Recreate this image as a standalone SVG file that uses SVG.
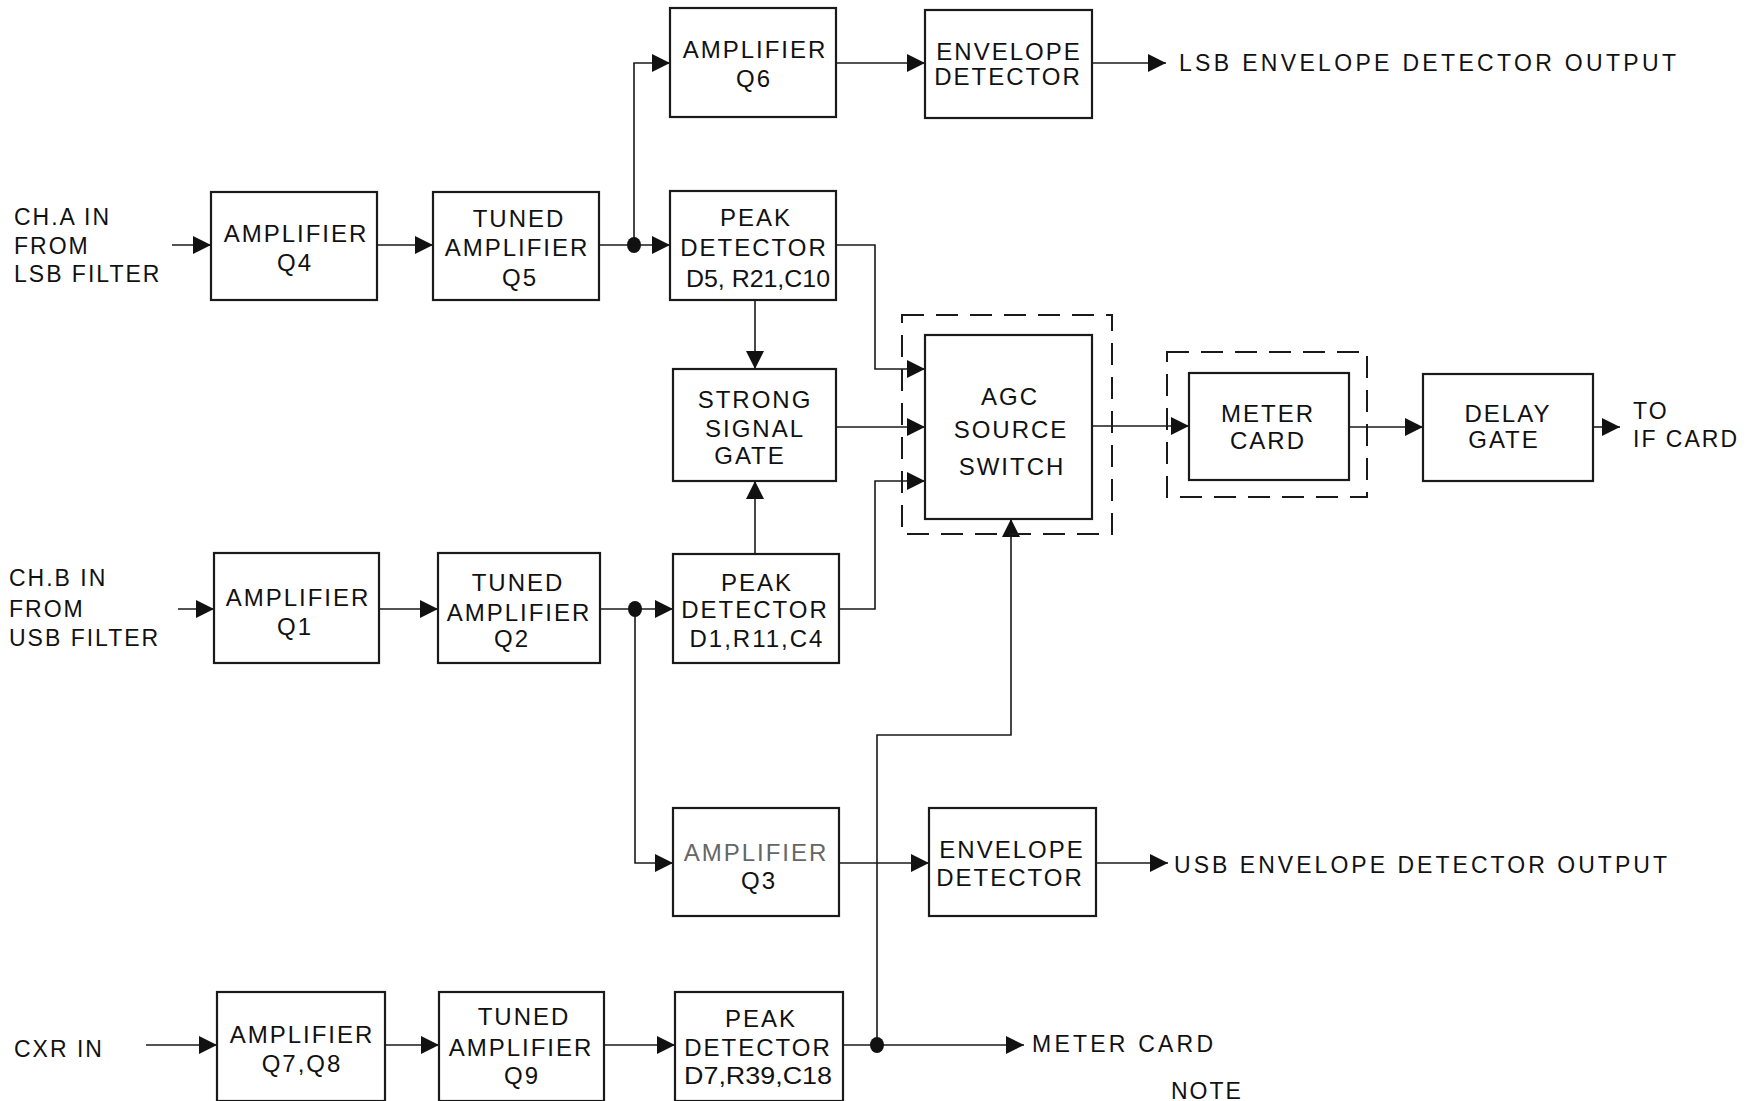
<svg xmlns="http://www.w3.org/2000/svg" width="1758" height="1101" viewBox="0 0 1758 1101">
<defs>
<marker id="ah" markerUnits="userSpaceOnUse" markerWidth="18" markerHeight="18" refX="18" refY="9" orient="auto">
<path d="M0,0 L18,9 L0,18 z" fill="#111"/>
</marker>
<style>
.box{fill:#fff;stroke:#1a1a1a;stroke-width:2.2}
.dash{fill:none;stroke:#1a1a1a;stroke-width:2;stroke-dasharray:22 12}
.ln{fill:none;stroke:#1a1a1a;stroke-width:1.6}
.t{font-family:"Liberation Sans",Arial,sans-serif;font-size:24px;letter-spacing:2px;fill:#111;text-anchor:middle}
.ts{font-family:"Liberation Sans",Arial,sans-serif;font-size:24px;fill:#111;text-anchor:start}
.l{font-family:"Liberation Sans",Arial,sans-serif;font-size:23px;letter-spacing:2px;fill:#111}
.dot{fill:#111}
</style>
</defs>
<rect width="1758" height="1101" fill="#fff"/>

<g id="connectors">
<path class="ln" d="M172,245 H211" marker-end="url(#ah)"/>
<path class="ln" d="M377,245 H433" marker-end="url(#ah)"/>
<path class="ln" d="M599,245 H670" marker-end="url(#ah)"/>
<path class="ln" d="M634,245 V63 H670" marker-end="url(#ah)"/>
<path class="ln" d="M836,63 H925" marker-end="url(#ah)"/>
<path class="ln" d="M1092,63 H1166" marker-end="url(#ah)"/>
<path class="ln" d="M836,245 H875 V369 H925" marker-end="url(#ah)"/>
<path class="ln" d="M755,300 V369" marker-end="url(#ah)"/>
<path class="ln" d="M836,427 H925" marker-end="url(#ah)"/>
<path class="ln" d="M755,554 V481" marker-end="url(#ah)"/>
<path class="ln" d="M839,609 H875 V481 H925" marker-end="url(#ah)"/>
<path class="ln" d="M178,609 H214" marker-end="url(#ah)"/>
<path class="ln" d="M379,609 H438" marker-end="url(#ah)"/>
<path class="ln" d="M600,609 H673" marker-end="url(#ah)"/>
<path class="ln" d="M635,609 V863 H673" marker-end="url(#ah)"/>
<path class="ln" d="M839,863 H929" marker-end="url(#ah)"/>
<path class="ln" d="M1096,863 H1168" marker-end="url(#ah)"/>
<path class="ln" d="M146,1045 H217" marker-end="url(#ah)"/>
<path class="ln" d="M385,1045 H439" marker-end="url(#ah)"/>
<path class="ln" d="M604,1045 H675" marker-end="url(#ah)"/>
<path class="ln" d="M843,1045 H1024" marker-end="url(#ah)"/>
<path class="ln" d="M877,1045 V735 H1011 V519" marker-end="url(#ah)"/>
<path class="ln" d="M1092,426 H1189" marker-end="url(#ah)"/>
<path class="ln" d="M1349,427 H1423" marker-end="url(#ah)"/>
<path class="ln" d="M1593,427 H1620" marker-end="url(#ah)"/>
<ellipse class="dot" cx="634" cy="245" rx="7" ry="8"/>
<ellipse class="dot" cx="635" cy="609" rx="7" ry="8"/>
<ellipse class="dot" cx="877" cy="1045" rx="7" ry="8"/>
</g>

<g id="amp-q6"><rect class="box" x="670" y="8" width="166" height="109"/>
<text class="t" x="755" y="58">AMPLIFIER</text><text class="t" x="754" y="87" letter-spacing="4">Q6</text></g>

<g id="env-top"><rect class="box" x="925" y="10" width="167" height="108"/>
<text class="t" x="1009" y="60">ENVELOPE</text><text class="t" x="1008" y="85">DETECTOR</text></g>

<g id="amp-q4"><rect class="box" x="211" y="192" width="166" height="108"/>
<text class="t" x="296" y="242">AMPLIFIER</text><text class="t" x="295" y="271">Q4</text></g>

<g id="tuned-q5"><rect class="box" x="433" y="192" width="166" height="108"/>
<text class="t" x="519" y="227" letter-spacing="3">TUNED</text><text class="t" x="517" y="256">AMPLIFIER</text><text class="t" x="520" y="286" letter-spacing="5">Q5</text></g>

<g id="peak-d5"><rect class="box" x="670" y="191" width="166" height="109"/>
<text class="t" x="756" y="226" letter-spacing="3">PEAK</text><text class="t" x="754" y="256">DETECTOR</text><text class="ts" x="686" y="287" textLength="144" lengthAdjust="spacingAndGlyphs">D5, R21,C10</text></g>

<g id="strong-gate"><rect class="box" x="673" y="369" width="163" height="112"/>
<text class="t" x="755" y="408" letter-spacing="4">STRONG</text><text class="t" x="755" y="437" letter-spacing="4">SIGNAL</text><text class="t" x="750" y="464" letter-spacing="3">GATE</text></g>

<g id="agc-switch">
<rect class="dash" x="902" y="315" width="210" height="219"/>
<rect class="box" x="925" y="335" width="167" height="184"/>
<text class="t" x="1010" y="405" letter-spacing="6">AGC</text><text class="t" x="1011" y="438" letter-spacing="3">SOURCE</text><text class="t" x="1012" y="475" letter-spacing="3">SWITCH</text></g>

<g id="meter-card">
<rect class="dash" x="1167" y="352" width="200" height="145"/>
<rect class="box" x="1189" y="373" width="160" height="107"/>
<text class="t" x="1268" y="422" letter-spacing="4">METER</text><text class="t" x="1268" y="449" letter-spacing="3">CARD</text></g>

<g id="delay-gate"><rect class="box" x="1423" y="374" width="170" height="107"/>
<text class="t" x="1508" y="422" letter-spacing="5">DELAY</text><text class="t" x="1504" y="448" letter-spacing="4">GATE</text></g>

<g id="amp-q1"><rect class="box" x="214" y="553" width="165" height="110"/>
<text class="t" x="298" y="606">AMPLIFIER</text><text class="t" x="295" y="635" letter-spacing="5">Q1</text></g>

<g id="tuned-q2"><rect class="box" x="438" y="553" width="162" height="110"/>
<text class="t" x="518" y="591" letter-spacing="3">TUNED</text><text class="t" x="519" y="621">AMPLIFIER</text><text class="t" x="512" y="647" letter-spacing="5">Q2</text></g>

<g id="peak-d1"><rect class="box" x="673" y="554" width="166" height="109"/>
<text class="t" x="757" y="591" letter-spacing="3">PEAK</text><text class="t" x="755" y="618">DETECTOR</text><text class="t" x="757" y="647">D1,R11,C4</text></g>

<g id="amp-q3"><rect class="box" x="673" y="808" width="166" height="108"/>
<text class="t" x="756" y="861" style="fill:#666">AMPLIFIER</text><text class="t" x="759" y="889">Q3</text></g>

<g id="env-usb"><rect class="box" x="929" y="808" width="167" height="108"/>
<text class="t" x="1012" y="858">ENVELOPE</text><text class="t" x="1010" y="886">DETECTOR</text></g>

<g id="amp-q7q8"><rect class="box" x="217" y="992" width="168" height="109"/>
<text class="t" x="302" y="1043">AMPLIFIER</text><text class="t" x="302" y="1072">Q7,Q8</text></g>

<g id="tuned-q9"><rect class="box" x="439" y="992" width="165" height="109"/>
<text class="t" x="524" y="1025" letter-spacing="3">TUNED</text><text class="t" x="521" y="1056">AMPLIFIER</text><text class="t" x="522" y="1084" letter-spacing="4">Q9</text></g>

<g id="peak-d7"><rect class="box" x="675" y="992" width="168" height="109"/>
<text class="t" x="761" y="1027" letter-spacing="3">PEAK</text><text class="t" x="758" y="1056">DETECTOR</text><text class="ts" x="684" y="1084" textLength="148" lengthAdjust="spacingAndGlyphs">D7,R39,C18</text></g>

<g id="labels">
<text class="l" x="14" y="225">CH.A  IN</text>
<text class="l" x="14" y="254">FROM</text>
<text class="l" x="14" y="282">LSB FILTER</text>
<text class="l" x="9" y="586">CH.B  IN</text>
<text class="l" x="9" y="617">FROM</text>
<text class="l" x="9" y="646">USB FILTER</text>
<text class="l" x="14" y="1057" letter-spacing="4">CXR  IN</text>
<text class="l" x="1179" y="71" textLength="499" lengthAdjust="spacing">LSB ENVELOPE DETECTOR OUTPUT</text>
<text class="l" x="1174" y="873" textLength="495" lengthAdjust="spacing">USB  ENVELOPE DETECTOR OUTPUT</text>
<text class="l" x="1032" y="1052" textLength="183" lengthAdjust="spacing">METER CARD</text>
<text class="l" x="1633" y="419">TO</text>
<text class="l" x="1633" y="447" letter-spacing="1">IF CARD</text>
<text class="l" x="1171" y="1099" font-size="17" letter-spacing="1">NOTE</text>
</g>
</svg>
